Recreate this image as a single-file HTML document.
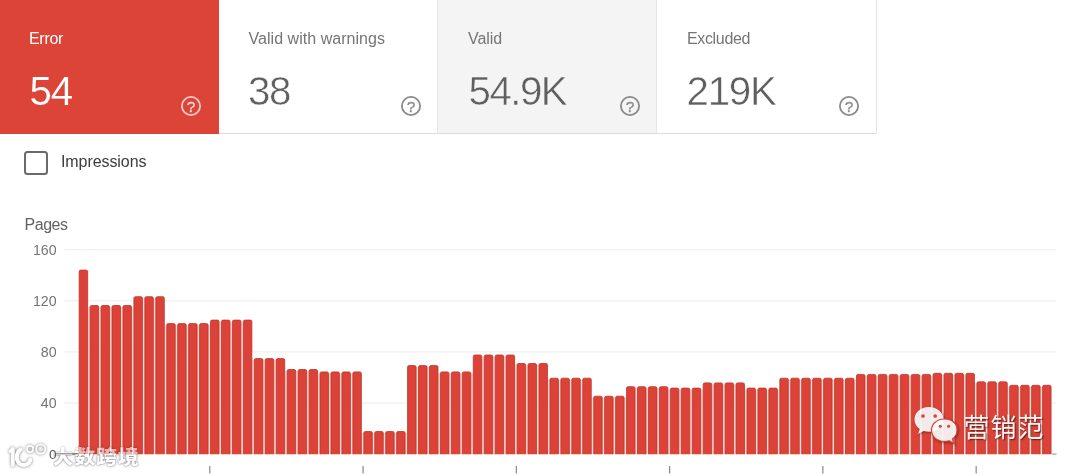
<!DOCTYPE html>
<html><head><meta charset="utf-8"><title>Index coverage</title>
<style>
html,body{margin:0;padding:0;background:#fff;}
body{width:1080px;height:476px;position:relative;overflow:hidden;font-family:"Liberation Sans","Noto Sans CJK SC",sans-serif;}
.card{position:absolute;top:0;height:133px;box-sizing:border-box;}
.c1{left:0;width:219.3px;height:133.5px;background:#db4437;}
.c2{left:219.3px;width:218.7px;background:#fff;border-right:1px solid #e6e6e6;border-bottom:1px solid #dcdcdc;height:134px}
.c3{left:438px;width:219px;background:#f4f4f4;border-right:1px solid #e6e6e6;border-bottom:1px solid #dcdcdc;height:134px}
.c4{left:657px;width:220.2px;background:#fff;border-right:1px solid #e6e6e6;border-bottom:1px solid #dcdcdc;height:134px}
.lbl{position:absolute;top:29.7px;font-size:16px;line-height:18px;color:#757575;white-space:nowrap;letter-spacing:-0.07px}
.num{position:absolute;top:68.8px;font-size:40.3px;line-height:46px;color:#5f5f5f;white-space:nowrap;letter-spacing:-1.3px;margin-left:-0.4px}
.c1 .lbl,.c1 .num{color:#fff}
.num{-webkit-text-stroke:0.5px #fff;paint-order:fill stroke}
.c1 .num{-webkit-text-stroke:0.15px #db4437}
.c3 .num{-webkit-text-stroke-color:#f4f4f4}
.hi{position:absolute}
.cb{position:absolute;left:24.2px;top:150.7px;width:20px;height:20px;border:2.1px solid #6a6a6a;border-radius:3.5px}
.imp{position:absolute;left:61px;top:153.3px;font-size:16px;line-height:18px;color:#3c3c3c;letter-spacing:-0.08px}
.pages{position:absolute;left:24.5px;top:216px;font-size:16px;line-height:18px;color:#616161;letter-spacing:-0.45px}
svg.chart{position:absolute;left:0;top:0}
svg.chart text{font-family:"Liberation Sans",sans-serif;font-size:14.2px;fill:#757575}
.wm1{position:absolute;left:52.6px;top:442px;font-size:21px;line-height:30px;font-weight:900;color:#fff;text-shadow:0 0 1.5px rgba(0,0,0,.5),0 0 3px rgba(0,0,0,.35);-webkit-mask-image:linear-gradient(to bottom,rgba(0,0,0,.6) 10.6px,#000 10.6px);mask-image:linear-gradient(to bottom,rgba(0,0,0,.6) 10.6px,#000 10.6px);white-space:nowrap;letter-spacing:0.75px;transform:scale(1,.9);transform-origin:0 26.5px}
.wm2{position:absolute;left:963.6px;top:411.6px;font-size:26px;line-height:32px;font-weight:400;letter-spacing:1px;color:rgba(255,255,255,.95);text-shadow:1px 1px 1.5px rgba(0,0,0,.6);white-space:nowrap;}
</style></head><body>
<div class="card c1"><div class="lbl" style="left:29px;letter-spacing:-0.3px">Error</div><div class="num" style="left:30px">54</div></div>
<div class="card c2"><div class="lbl" style="left:29.3px;letter-spacing:0.03px">Valid with warnings</div><div class="num" style="left:29px">38</div></div>
<div class="card c3"><div class="lbl" style="left:30px">Valid</div><div class="num" style="left:31px;letter-spacing:-1.55px">54.9K</div></div>
<div class="card c4"><div class="lbl" style="left:30px;letter-spacing:-0.35px">Excluded</div><div class="num" style="left:30px">219K</div></div>
<svg class="hi" style="left:180.3px;top:94.7px" width="22" height="22" viewBox="0 0 22 22"><circle cx="11" cy="11" r="9.1" fill="none" stroke="rgba(255,255,255,.72)" stroke-width="1.8"/><text x="11.1" y="16.5" text-anchor="middle" font-family="Liberation Sans, sans-serif" font-size="15.4" fill="rgba(255,255,255,.72)" stroke="rgba(255,255,255,.72)" stroke-width="0.35">?</text></svg>
<svg class="hi" style="left:399.7px;top:94.7px" width="22" height="22" viewBox="0 0 22 22"><circle cx="11" cy="11" r="9.1" fill="none" stroke="#8a8a8a" stroke-width="1.8"/><text x="11.1" y="16.5" text-anchor="middle" font-family="Liberation Sans, sans-serif" font-size="15.4" fill="#8a8a8a" stroke="#8a8a8a" stroke-width="0.35">?</text></svg>
<svg class="hi" style="left:618.7px;top:94.7px" width="22" height="22" viewBox="0 0 22 22"><circle cx="11" cy="11" r="9.1" fill="none" stroke="#8a8a8a" stroke-width="1.8"/><text x="11.1" y="16.5" text-anchor="middle" font-family="Liberation Sans, sans-serif" font-size="15.4" fill="#8a8a8a" stroke="#8a8a8a" stroke-width="0.35">?</text></svg>
<svg class="hi" style="left:837.7px;top:94.7px" width="22" height="22" viewBox="0 0 22 22"><circle cx="11" cy="11" r="9.1" fill="none" stroke="#8a8a8a" stroke-width="1.8"/><text x="11.1" y="16.5" text-anchor="middle" font-family="Liberation Sans, sans-serif" font-size="15.4" fill="#8a8a8a" stroke="#8a8a8a" stroke-width="0.35">?</text></svg>
<div class="cb"></div><div class="imp">Impressions</div>
<div class="pages">Pages</div>
<svg class="chart" width="1080" height="476" viewBox="0 0 1080 476">
<rect x="56" y="453.50" width="23" height="1.1" fill="#6a6a6a"/><rect x="1052" y="453.60" width="4.5" height="1.1" fill="#9e9e9e"/><rect x="64" y="402.52" width="992.5" height="1" fill="#ececec"/><rect x="64" y="351.44" width="992.5" height="1" fill="#ececec"/><rect x="64" y="300.36" width="992.5" height="1" fill="#ececec"/><rect x="64" y="249.28" width="992.5" height="1" fill="#ececec"/>
<text x="56.6" y="408.02" text-anchor="end">40</text><text x="56.6" y="356.94" text-anchor="end">80</text><text x="56.6" y="305.86" text-anchor="end">120</text><text x="56.6" y="254.78" text-anchor="end">160</text>
<rect x="87.75" y="307.1" width="2.25" height="147.1" fill="#fbd9d4"/><rect x="98.70" y="307.1" width="2.25" height="147.1" fill="#fbd9d4"/><rect x="109.65" y="307.1" width="2.25" height="147.1" fill="#fbd9d4"/><rect x="120.59" y="307.1" width="2.25" height="147.1" fill="#fbd9d4"/><rect x="131.54" y="307.1" width="2.25" height="147.1" fill="#fbd9d4"/><rect x="142.49" y="298.3" width="2.25" height="155.9" fill="#fbd9d4"/><rect x="153.44" y="298.3" width="2.25" height="155.9" fill="#fbd9d4"/><rect x="164.39" y="325.2" width="2.25" height="129.0" fill="#fbd9d4"/><rect x="175.33" y="325.2" width="2.25" height="129.0" fill="#fbd9d4"/><rect x="186.28" y="325.2" width="2.25" height="129.0" fill="#fbd9d4"/><rect x="197.23" y="325.2" width="2.25" height="129.0" fill="#fbd9d4"/><rect x="208.18" y="325.2" width="2.25" height="129.0" fill="#fbd9d4"/><rect x="219.13" y="321.7" width="2.25" height="132.5" fill="#fbd9d4"/><rect x="230.07" y="321.7" width="2.25" height="132.5" fill="#fbd9d4"/><rect x="241.02" y="321.7" width="2.25" height="132.5" fill="#fbd9d4"/><rect x="251.97" y="360.2" width="2.25" height="94.0" fill="#fbd9d4"/><rect x="262.92" y="360.2" width="2.25" height="94.0" fill="#fbd9d4"/><rect x="273.87" y="360.2" width="2.25" height="94.0" fill="#fbd9d4"/><rect x="284.81" y="371.1" width="2.25" height="83.1" fill="#fbd9d4"/><rect x="295.76" y="371.1" width="2.25" height="83.1" fill="#fbd9d4"/><rect x="306.71" y="371.1" width="2.25" height="83.1" fill="#fbd9d4"/><rect x="317.66" y="373.5" width="2.25" height="80.7" fill="#fbd9d4"/><rect x="328.61" y="373.5" width="2.25" height="80.7" fill="#fbd9d4"/><rect x="339.55" y="373.5" width="2.25" height="80.7" fill="#fbd9d4"/><rect x="350.50" y="373.5" width="2.25" height="80.7" fill="#fbd9d4"/><rect x="361.45" y="433.1" width="2.25" height="21.1" fill="#fbd9d4"/><rect x="372.40" y="433.1" width="2.25" height="21.1" fill="#fbd9d4"/><rect x="383.35" y="433.1" width="2.25" height="21.1" fill="#fbd9d4"/><rect x="394.29" y="433.1" width="2.25" height="21.1" fill="#fbd9d4"/><rect x="405.24" y="433.1" width="2.25" height="21.1" fill="#fbd9d4"/><rect x="416.19" y="367.2" width="2.25" height="87.0" fill="#fbd9d4"/><rect x="427.14" y="367.2" width="2.25" height="87.0" fill="#fbd9d4"/><rect x="438.09" y="373.5" width="2.25" height="80.7" fill="#fbd9d4"/><rect x="449.03" y="373.5" width="2.25" height="80.7" fill="#fbd9d4"/><rect x="459.98" y="373.5" width="2.25" height="80.7" fill="#fbd9d4"/><rect x="470.93" y="373.5" width="2.25" height="80.7" fill="#fbd9d4"/><rect x="481.88" y="356.6" width="2.25" height="97.6" fill="#fbd9d4"/><rect x="492.83" y="356.6" width="2.25" height="97.6" fill="#fbd9d4"/><rect x="503.77" y="356.6" width="2.25" height="97.6" fill="#fbd9d4"/><rect x="514.72" y="365.1" width="2.25" height="89.1" fill="#fbd9d4"/><rect x="525.67" y="365.1" width="2.25" height="89.1" fill="#fbd9d4"/><rect x="536.62" y="365.1" width="2.25" height="89.1" fill="#fbd9d4"/><rect x="547.57" y="379.8" width="2.25" height="74.4" fill="#fbd9d4"/><rect x="558.51" y="379.8" width="2.25" height="74.4" fill="#fbd9d4"/><rect x="569.46" y="379.8" width="2.25" height="74.4" fill="#fbd9d4"/><rect x="580.41" y="379.8" width="2.25" height="74.4" fill="#fbd9d4"/><rect x="591.36" y="397.8" width="2.25" height="56.4" fill="#fbd9d4"/><rect x="602.31" y="397.8" width="2.25" height="56.4" fill="#fbd9d4"/><rect x="613.25" y="397.8" width="2.25" height="56.4" fill="#fbd9d4"/><rect x="624.20" y="397.8" width="2.25" height="56.4" fill="#fbd9d4"/><rect x="635.15" y="388.3" width="2.25" height="65.9" fill="#fbd9d4"/><rect x="646.10" y="388.3" width="2.25" height="65.9" fill="#fbd9d4"/><rect x="657.05" y="388.3" width="2.25" height="65.9" fill="#fbd9d4"/><rect x="667.99" y="389.7" width="2.25" height="64.5" fill="#fbd9d4"/><rect x="678.94" y="389.7" width="2.25" height="64.5" fill="#fbd9d4"/><rect x="689.89" y="389.7" width="2.25" height="64.5" fill="#fbd9d4"/><rect x="700.84" y="389.7" width="2.25" height="64.5" fill="#fbd9d4"/><rect x="711.79" y="384.5" width="2.25" height="69.7" fill="#fbd9d4"/><rect x="722.73" y="384.5" width="2.25" height="69.7" fill="#fbd9d4"/><rect x="733.68" y="384.5" width="2.25" height="69.7" fill="#fbd9d4"/><rect x="744.63" y="389.7" width="2.25" height="64.5" fill="#fbd9d4"/><rect x="755.58" y="389.7" width="2.25" height="64.5" fill="#fbd9d4"/><rect x="766.53" y="389.7" width="2.25" height="64.5" fill="#fbd9d4"/><rect x="777.47" y="389.7" width="2.25" height="64.5" fill="#fbd9d4"/><rect x="788.42" y="379.8" width="2.25" height="74.4" fill="#fbd9d4"/><rect x="799.37" y="379.8" width="2.25" height="74.4" fill="#fbd9d4"/><rect x="810.32" y="379.8" width="2.25" height="74.4" fill="#fbd9d4"/><rect x="821.27" y="379.8" width="2.25" height="74.4" fill="#fbd9d4"/><rect x="832.21" y="379.8" width="2.25" height="74.4" fill="#fbd9d4"/><rect x="843.16" y="379.8" width="2.25" height="74.4" fill="#fbd9d4"/><rect x="854.11" y="379.8" width="2.25" height="74.4" fill="#fbd9d4"/><rect x="865.06" y="376.0" width="2.25" height="78.2" fill="#fbd9d4"/><rect x="876.01" y="376.0" width="2.25" height="78.2" fill="#fbd9d4"/><rect x="886.95" y="376.0" width="2.25" height="78.2" fill="#fbd9d4"/><rect x="897.90" y="376.0" width="2.25" height="78.2" fill="#fbd9d4"/><rect x="908.85" y="376.0" width="2.25" height="78.2" fill="#fbd9d4"/><rect x="919.80" y="376.0" width="2.25" height="78.2" fill="#fbd9d4"/><rect x="930.75" y="376.0" width="2.25" height="78.2" fill="#fbd9d4"/><rect x="941.69" y="374.9" width="2.25" height="79.3" fill="#fbd9d4"/><rect x="952.64" y="374.9" width="2.25" height="79.3" fill="#fbd9d4"/><rect x="963.59" y="374.9" width="2.25" height="79.3" fill="#fbd9d4"/><rect x="974.54" y="383.4" width="2.25" height="70.8" fill="#fbd9d4"/><rect x="985.49" y="383.4" width="2.25" height="70.8" fill="#fbd9d4"/><rect x="996.43" y="383.4" width="2.25" height="70.8" fill="#fbd9d4"/><rect x="1007.38" y="386.9" width="2.25" height="67.3" fill="#fbd9d4"/><rect x="1018.33" y="386.9" width="2.25" height="67.3" fill="#fbd9d4"/><rect x="1029.28" y="386.9" width="2.25" height="67.3" fill="#fbd9d4"/><rect x="1040.23" y="386.9" width="2.25" height="67.3" fill="#fbd9d4"/>
<defs><filter id="soft" x="-1%" y="-5%" width="102%" height="110%"><feGaussianBlur stdDeviation="0.5"/></filter></defs><g fill="#dd4337" stroke="#bb3429" stroke-width="0.8" filter="url(#soft)"><path d="M79.15 454.2 V271.60 Q79.15 270.10 80.65 270.10 H86.15 Q87.65 270.10 87.65 271.60 V454.2"/><path d="M90.10 454.2 V307.00 Q90.10 305.50 91.60 305.50 H97.10 Q98.60 305.50 98.60 307.00 V454.2"/><path d="M101.05 454.2 V307.00 Q101.05 305.50 102.55 305.50 H108.05 Q109.55 305.50 109.55 307.00 V454.2"/><path d="M111.99 454.2 V307.00 Q111.99 305.50 113.49 305.50 H118.99 Q120.49 305.50 120.49 307.00 V454.2"/><path d="M122.94 454.2 V307.00 Q122.94 305.50 124.44 305.50 H129.94 Q131.44 305.50 131.44 307.00 V454.2"/><path d="M133.89 454.2 V298.20 Q133.89 296.70 135.39 296.70 H140.89 Q142.39 296.70 142.39 298.20 V454.2"/><path d="M144.84 454.2 V298.20 Q144.84 296.70 146.34 296.70 H151.84 Q153.34 296.70 153.34 298.20 V454.2"/><path d="M155.79 454.2 V298.20 Q155.79 296.70 157.29 296.70 H162.79 Q164.29 296.70 164.29 298.20 V454.2"/><path d="M166.73 454.2 V325.10 Q166.73 323.60 168.23 323.60 H173.73 Q175.23 323.60 175.23 325.10 V454.2"/><path d="M177.68 454.2 V325.10 Q177.68 323.60 179.18 323.60 H184.68 Q186.18 323.60 186.18 325.10 V454.2"/><path d="M188.63 454.2 V325.10 Q188.63 323.60 190.13 323.60 H195.63 Q197.13 323.60 197.13 325.10 V454.2"/><path d="M199.58 454.2 V325.10 Q199.58 323.60 201.08 323.60 H206.58 Q208.08 323.60 208.08 325.10 V454.2"/><path d="M210.53 454.2 V321.60 Q210.53 320.10 212.03 320.10 H217.53 Q219.03 320.10 219.03 321.60 V454.2"/><path d="M221.47 454.2 V321.60 Q221.47 320.10 222.97 320.10 H228.47 Q229.97 320.10 229.97 321.60 V454.2"/><path d="M232.42 454.2 V321.60 Q232.42 320.10 233.92 320.10 H239.42 Q240.92 320.10 240.92 321.60 V454.2"/><path d="M243.37 454.2 V321.60 Q243.37 320.10 244.87 320.10 H250.37 Q251.87 320.10 251.87 321.60 V454.2"/><path d="M254.32 454.2 V360.10 Q254.32 358.60 255.82 358.60 H261.32 Q262.82 358.60 262.82 360.10 V454.2"/><path d="M265.27 454.2 V360.10 Q265.27 358.60 266.77 358.60 H272.27 Q273.77 358.60 273.77 360.10 V454.2"/><path d="M276.21 454.2 V360.10 Q276.21 358.60 277.71 358.60 H283.21 Q284.71 358.60 284.71 360.10 V454.2"/><path d="M287.16 454.2 V371.00 Q287.16 369.50 288.66 369.50 H294.16 Q295.66 369.50 295.66 371.00 V454.2"/><path d="M298.11 454.2 V371.00 Q298.11 369.50 299.61 369.50 H305.11 Q306.61 369.50 306.61 371.00 V454.2"/><path d="M309.06 454.2 V371.00 Q309.06 369.50 310.56 369.50 H316.06 Q317.56 369.50 317.56 371.00 V454.2"/><path d="M320.01 454.2 V373.40 Q320.01 371.90 321.51 371.90 H327.01 Q328.51 371.90 328.51 373.40 V454.2"/><path d="M330.95 454.2 V373.40 Q330.95 371.90 332.45 371.90 H337.95 Q339.45 371.90 339.45 373.40 V454.2"/><path d="M341.90 454.2 V373.40 Q341.90 371.90 343.40 371.90 H348.90 Q350.40 371.90 350.40 373.40 V454.2"/><path d="M352.85 454.2 V373.40 Q352.85 371.90 354.35 371.90 H359.85 Q361.35 371.90 361.35 373.40 V454.2"/><path d="M363.80 454.2 V433.00 Q363.80 431.50 365.30 431.50 H370.80 Q372.30 431.50 372.30 433.00 V454.2"/><path d="M374.75 454.2 V433.00 Q374.75 431.50 376.25 431.50 H381.75 Q383.25 431.50 383.25 433.00 V454.2"/><path d="M385.69 454.2 V433.00 Q385.69 431.50 387.19 431.50 H392.69 Q394.19 431.50 394.19 433.00 V454.2"/><path d="M396.64 454.2 V433.00 Q396.64 431.50 398.14 431.50 H403.64 Q405.14 431.50 405.14 433.00 V454.2"/><path d="M407.59 454.2 V367.10 Q407.59 365.60 409.09 365.60 H414.59 Q416.09 365.60 416.09 367.10 V454.2"/><path d="M418.54 454.2 V367.10 Q418.54 365.60 420.04 365.60 H425.54 Q427.04 365.60 427.04 367.10 V454.2"/><path d="M429.49 454.2 V367.10 Q429.49 365.60 430.99 365.60 H436.49 Q437.99 365.60 437.99 367.10 V454.2"/><path d="M440.43 454.2 V373.40 Q440.43 371.90 441.93 371.90 H447.43 Q448.93 371.90 448.93 373.40 V454.2"/><path d="M451.38 454.2 V373.40 Q451.38 371.90 452.88 371.90 H458.38 Q459.88 371.90 459.88 373.40 V454.2"/><path d="M462.33 454.2 V373.40 Q462.33 371.90 463.83 371.90 H469.33 Q470.83 371.90 470.83 373.40 V454.2"/><path d="M473.28 454.2 V356.50 Q473.28 355.00 474.78 355.00 H480.28 Q481.78 355.00 481.78 356.50 V454.2"/><path d="M484.23 454.2 V356.50 Q484.23 355.00 485.73 355.00 H491.23 Q492.73 355.00 492.73 356.50 V454.2"/><path d="M495.17 454.2 V356.50 Q495.17 355.00 496.67 355.00 H502.17 Q503.67 355.00 503.67 356.50 V454.2"/><path d="M506.12 454.2 V356.50 Q506.12 355.00 507.62 355.00 H513.12 Q514.62 355.00 514.62 356.50 V454.2"/><path d="M517.07 454.2 V365.00 Q517.07 363.50 518.57 363.50 H524.07 Q525.57 363.50 525.57 365.00 V454.2"/><path d="M528.02 454.2 V365.00 Q528.02 363.50 529.52 363.50 H535.02 Q536.52 363.50 536.52 365.00 V454.2"/><path d="M538.97 454.2 V365.00 Q538.97 363.50 540.47 363.50 H545.97 Q547.47 363.50 547.47 365.00 V454.2"/><path d="M549.91 454.2 V379.70 Q549.91 378.20 551.41 378.20 H556.91 Q558.41 378.20 558.41 379.70 V454.2"/><path d="M560.86 454.2 V379.70 Q560.86 378.20 562.36 378.20 H567.86 Q569.36 378.20 569.36 379.70 V454.2"/><path d="M571.81 454.2 V379.70 Q571.81 378.20 573.31 378.20 H578.81 Q580.31 378.20 580.31 379.70 V454.2"/><path d="M582.76 454.2 V379.70 Q582.76 378.20 584.26 378.20 H589.76 Q591.26 378.20 591.26 379.70 V454.2"/><path d="M593.71 454.2 V397.70 Q593.71 396.20 595.21 396.20 H600.71 Q602.21 396.20 602.21 397.70 V454.2"/><path d="M604.65 454.2 V397.70 Q604.65 396.20 606.15 396.20 H611.65 Q613.15 396.20 613.15 397.70 V454.2"/><path d="M615.60 454.2 V397.70 Q615.60 396.20 617.10 396.20 H622.60 Q624.10 396.20 624.10 397.70 V454.2"/><path d="M626.55 454.2 V388.20 Q626.55 386.70 628.05 386.70 H633.55 Q635.05 386.70 635.05 388.20 V454.2"/><path d="M637.50 454.2 V388.20 Q637.50 386.70 639.00 386.70 H644.50 Q646.00 386.70 646.00 388.20 V454.2"/><path d="M648.45 454.2 V388.20 Q648.45 386.70 649.95 386.70 H655.45 Q656.95 386.70 656.95 388.20 V454.2"/><path d="M659.39 454.2 V388.20 Q659.39 386.70 660.89 386.70 H666.39 Q667.89 386.70 667.89 388.20 V454.2"/><path d="M670.34 454.2 V389.60 Q670.34 388.10 671.84 388.10 H677.34 Q678.84 388.10 678.84 389.60 V454.2"/><path d="M681.29 454.2 V389.60 Q681.29 388.10 682.79 388.10 H688.29 Q689.79 388.10 689.79 389.60 V454.2"/><path d="M692.24 454.2 V389.60 Q692.24 388.10 693.74 388.10 H699.24 Q700.74 388.10 700.74 389.60 V454.2"/><path d="M703.19 454.2 V384.40 Q703.19 382.90 704.69 382.90 H710.19 Q711.69 382.90 711.69 384.40 V454.2"/><path d="M714.13 454.2 V384.40 Q714.13 382.90 715.63 382.90 H721.13 Q722.63 382.90 722.63 384.40 V454.2"/><path d="M725.08 454.2 V384.40 Q725.08 382.90 726.58 382.90 H732.08 Q733.58 382.90 733.58 384.40 V454.2"/><path d="M736.03 454.2 V384.40 Q736.03 382.90 737.53 382.90 H743.03 Q744.53 382.90 744.53 384.40 V454.2"/><path d="M746.98 454.2 V389.60 Q746.98 388.10 748.48 388.10 H753.98 Q755.48 388.10 755.48 389.60 V454.2"/><path d="M757.93 454.2 V389.60 Q757.93 388.10 759.43 388.10 H764.93 Q766.43 388.10 766.43 389.60 V454.2"/><path d="M768.87 454.2 V389.60 Q768.87 388.10 770.37 388.10 H775.87 Q777.37 388.10 777.37 389.60 V454.2"/><path d="M779.82 454.2 V379.70 Q779.82 378.20 781.32 378.20 H786.82 Q788.32 378.20 788.32 379.70 V454.2"/><path d="M790.77 454.2 V379.70 Q790.77 378.20 792.27 378.20 H797.77 Q799.27 378.20 799.27 379.70 V454.2"/><path d="M801.72 454.2 V379.70 Q801.72 378.20 803.22 378.20 H808.72 Q810.22 378.20 810.22 379.70 V454.2"/><path d="M812.67 454.2 V379.70 Q812.67 378.20 814.17 378.20 H819.67 Q821.17 378.20 821.17 379.70 V454.2"/><path d="M823.61 454.2 V379.70 Q823.61 378.20 825.11 378.20 H830.61 Q832.11 378.20 832.11 379.70 V454.2"/><path d="M834.56 454.2 V379.70 Q834.56 378.20 836.06 378.20 H841.56 Q843.06 378.20 843.06 379.70 V454.2"/><path d="M845.51 454.2 V379.70 Q845.51 378.20 847.01 378.20 H852.51 Q854.01 378.20 854.01 379.70 V454.2"/><path d="M856.46 454.2 V375.90 Q856.46 374.40 857.96 374.40 H863.46 Q864.96 374.40 864.96 375.90 V454.2"/><path d="M867.41 454.2 V375.90 Q867.41 374.40 868.91 374.40 H874.41 Q875.91 374.40 875.91 375.90 V454.2"/><path d="M878.35 454.2 V375.90 Q878.35 374.40 879.85 374.40 H885.35 Q886.85 374.40 886.85 375.90 V454.2"/><path d="M889.30 454.2 V375.90 Q889.30 374.40 890.80 374.40 H896.30 Q897.80 374.40 897.80 375.90 V454.2"/><path d="M900.25 454.2 V375.90 Q900.25 374.40 901.75 374.40 H907.25 Q908.75 374.40 908.75 375.90 V454.2"/><path d="M911.20 454.2 V375.90 Q911.20 374.40 912.70 374.40 H918.20 Q919.70 374.40 919.70 375.90 V454.2"/><path d="M922.15 454.2 V375.90 Q922.15 374.40 923.65 374.40 H929.15 Q930.65 374.40 930.65 375.90 V454.2"/><path d="M933.09 454.2 V374.80 Q933.09 373.30 934.59 373.30 H940.09 Q941.59 373.30 941.59 374.80 V454.2"/><path d="M944.04 454.2 V374.80 Q944.04 373.30 945.54 373.30 H951.04 Q952.54 373.30 952.54 374.80 V454.2"/><path d="M954.99 454.2 V374.80 Q954.99 373.30 956.49 373.30 H961.99 Q963.49 373.30 963.49 374.80 V454.2"/><path d="M965.94 454.2 V374.80 Q965.94 373.30 967.44 373.30 H972.94 Q974.44 373.30 974.44 374.80 V454.2"/><path d="M976.89 454.2 V383.30 Q976.89 381.80 978.39 381.80 H983.89 Q985.39 381.80 985.39 383.30 V454.2"/><path d="M987.83 454.2 V383.30 Q987.83 381.80 989.33 381.80 H994.83 Q996.33 381.80 996.33 383.30 V454.2"/><path d="M998.78 454.2 V383.30 Q998.78 381.80 1000.28 381.80 H1005.78 Q1007.28 381.80 1007.28 383.30 V454.2"/><path d="M1009.73 454.2 V386.80 Q1009.73 385.30 1011.23 385.30 H1016.73 Q1018.23 385.30 1018.23 386.80 V454.2"/><path d="M1020.68 454.2 V386.80 Q1020.68 385.30 1022.18 385.30 H1027.68 Q1029.18 385.30 1029.18 386.80 V454.2"/><path d="M1031.63 454.2 V386.80 Q1031.63 385.30 1033.13 385.30 H1038.63 Q1040.13 385.30 1040.13 386.80 V454.2"/><path d="M1042.57 454.2 V386.80 Q1042.57 385.30 1044.07 385.30 H1049.57 Q1051.07 385.30 1051.07 386.80 V454.2"/></g>
<rect x="209.20" y="466" width="1.2" height="7.5" fill="#8a8a8a"/><rect x="362.47" y="466" width="1.2" height="7.5" fill="#8a8a8a"/><rect x="515.74" y="466" width="1.2" height="7.5" fill="#8a8a8a"/><rect x="669.01" y="466" width="1.2" height="7.5" fill="#8a8a8a"/><rect x="822.28" y="466" width="1.2" height="7.5" fill="#8a8a8a"/><rect x="975.55" y="466" width="1.2" height="7.5" fill="#8a8a8a"/>
</svg>
<svg class="hi" style="left:0px;top:436px" width="60" height="40" viewBox="0 436 60 40">
<g fill="none" stroke="#fff" stroke-linecap="round" stroke-linejoin="round" style="filter:drop-shadow(0 0 1.4px rgba(0,0,0,.55))">
<path d="M12.8 449.1 V464.9" stroke-width="3.8"/><path d="M12.6 448.9 L10.1 451.4" stroke-width="2.9"/>
<path d="M20.6 449.3 C15.8 452.5 15.4 460.7 20 463.9 C24.200 466.500 29.300 464.300 30.200 460" stroke-width="3.9"/>
<circle cx="30.1" cy="449.1" r="3.2" stroke-width="1.7" fill="rgba(0,0,0,.03)"/><circle cx="40.7" cy="449.1" r="4.6" stroke-width="1.7" fill="rgba(0,0,0,.03)"/>
</g>
</svg>
<div class="wm1">大数跨境</div>
<svg class="chart" width="90" height="476" viewBox="0 0 90 476"><rect x="56" y="453.30" width="23" height="1.1" fill="#6a6a6a" opacity=".8"/><text x="56.6" y="458.90" text-anchor="end" style="fill:#555;font-size:13.6px">0</text></svg>
<svg class="hi" style="left:910px;top:402px" width="52" height="46" viewBox="0 0 52 46">
<g style="filter:drop-shadow(1px 1px 1px rgba(0,0,0,.45))">
<path d="M19 5 C10.5 5 4.5 10.6 4.5 17.5 c0 3.9 2 7.3 5.2 9.6 l-1.6 4.9 5.6 -3 c1.7 .5 3.4 .8 5.3 .8 C27.500 29.800 33.500 24.400 33.500 17.500 33.500 10.600 27.500 5 19 5Z" fill="rgba(255,255,255,.9)"/>
<path d="M34.5 17 C27 17 21.500 22 21.500 28.200 c0 6.200 5.500 11.200 13 11.200 1.600 0 3.100 -.2 4.500 -.7 l4.800 2.600 -1.400 -4.300 c2.900 -2.100 4.600 -5.200 4.600 -8.800 C47.500 22 42 17 34.500 17Z" fill="rgba(255,255,255,.9)" stroke="#db4437" stroke-width="1.2"/>
</g>
<circle cx="13" cy="14" r="1.85" fill="#d8453a"/><circle cx="25.2" cy="14" r="1.85" fill="#d8453a"/>
<circle cx="30.3" cy="24.3" r="1.55" fill="#d8453a"/><circle cx="38.6" cy="24.3" r="1.55" fill="#d8453a"/>
</svg>
<div class="wm2">营销范</div>
</body></html>
